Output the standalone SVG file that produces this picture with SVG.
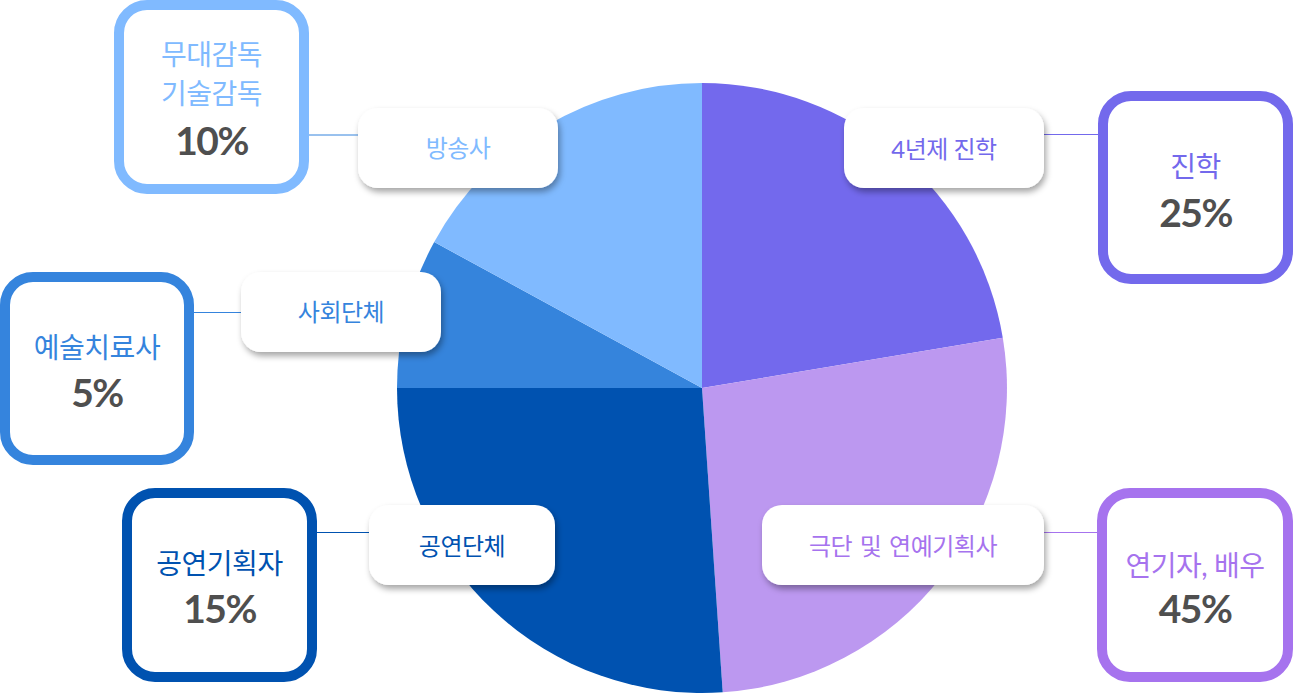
<svg xmlns="http://www.w3.org/2000/svg" width="1293" height="694" viewBox="0 0 1293 694">
<defs>
<filter id="sh" x="-20%" y="-30%" width="140%" height="170%">
<feDropShadow dx="2" dy="4" stdDeviation="3" flood-color="#000" flood-opacity="0.35"/>
</filter>
<style>
.big{fill:#fff;stroke-width:10}
.tag{fill:#fff;filter:url(#sh)}
.kb{font-family:"Lato","Noto Sans CJK KR",sans-serif;font-size:28px;text-anchor:middle;letter-spacing:-0.5px}
.ks{font-family:"Lato","Noto Sans CJK KR",sans-serif;font-size:24px;text-anchor:middle;letter-spacing:-0.5px}
.pc{font-family:"Lato","Noto Sans CJK KR",sans-serif;font-size:39px;font-weight:700;fill:#4f4f4f;text-anchor:middle;letter-spacing:-1.5px}
.c1{fill:#80BAFF}.c2{fill:#7369EC}.c3{fill:#3584DD}.c4{fill:#0052B0}.c5{fill:#A673EE}
</style>
</defs>
<rect width="1293" height="694" fill="#fff"/>
<g id="pie">
<path d="M702,388 L702,83 A305,305 0 0 1 1002.8,337.7 Z" fill="#7369ED"/>
<path d="M702,388 L1002.8,337.7 A305,305 0 0 1 722.7,692.3 Z" fill="#BC98F0"/>
<path d="M702,388 L722.7,692.3 A305,305 0 0 1 397,388 Z" fill="#0052B0"/>
<path d="M702,388 L397,388 A305,305 0 0 1 434.2,242 Z" fill="#3584DC"/>
<path d="M702,388 L434.2,242 A305,305 0 0 1 702,83 Z" fill="#80BAFF"/>
</g>
<g id="connectors" stroke-width="1" fill="none">
<line x1="309" y1="135" x2="358" y2="135" stroke="#3584DD"/>
<line x1="1044" y1="134.5" x2="1098" y2="134.5" stroke="#7369EC"/>
<line x1="194" y1="312.5" x2="241" y2="312.5" stroke="#3584DD"/>
<line x1="317" y1="532.5" x2="369" y2="532.5" stroke="#0052B0"/>
<line x1="1044" y1="532.5" x2="1097" y2="532.5" stroke="#A673EE"/>
</g>
<g id="tag-broadcast">
<rect class="tag" x="358" y="108" width="200" height="80" rx="20"/>
<text class="ks c1" x="458" y="157">방송사</text>
</g>
<g id="tag-university">
<rect class="tag" x="844" y="108" width="200" height="80" rx="20"/>
<text class="ks c2" x="944" y="158">4년제 진학</text>
</g>
<g id="tag-social">
<rect class="tag" x="241" y="272" width="200" height="80" rx="20"/>
<text class="ks c3" x="341" y="321">사회단체</text>
</g>
<g id="tag-performance">
<rect class="tag" x="369" y="505" width="186" height="80" rx="20"/>
<text class="ks c4" x="462" y="555">공연단체</text>
</g>
<g id="tag-theatre">
<rect class="tag" x="762" y="505" width="282" height="80" rx="20"/>
<text class="ks c5" x="903" y="555" word-spacing="2">극단 및 연예기획사</text>
</g>
<g id="box-stage">
<rect class="big" x="119" y="5" width="185" height="184" rx="28" stroke="#80BAFF"/>
<text class="kb c1" x="211.5" y="65">무대감독</text>
<text class="kb c1" x="211.5" y="104">기술감독</text>
<text class="pc" x="211.5" y="155">10%</text>
</g>
<g id="box-study">
<rect class="big" x="1103" y="96" width="185" height="183" rx="28" stroke="#7369EC"/>
<text class="kb c2" x="1195.5" y="177">진학</text>
<text class="pc" x="1195.5" y="227">25%</text>
</g>
<g id="box-therapy">
<rect class="big" x="5" y="277" width="184" height="183" rx="28" stroke="#3584DD"/>
<text class="kb c3" x="97" y="358">예술치료사</text>
<text class="pc" x="97" y="407">5%</text>
</g>
<g id="box-planner">
<rect class="big" x="127" y="493" width="185" height="184" rx="28" stroke="#0052B0"/>
<text class="kb c4" x="219.5" y="574">공연기획자</text>
<text class="pc" x="219.5" y="623">15%</text>
</g>
<g id="box-actor">
<rect class="big" x="1102" y="493" width="186" height="184" rx="28" stroke="#A673EE"/>
<text class="kb c5" x="1195" y="576">연기자, 배우</text>
<text class="pc" x="1195" y="623">45%</text>
</g>
</svg>
